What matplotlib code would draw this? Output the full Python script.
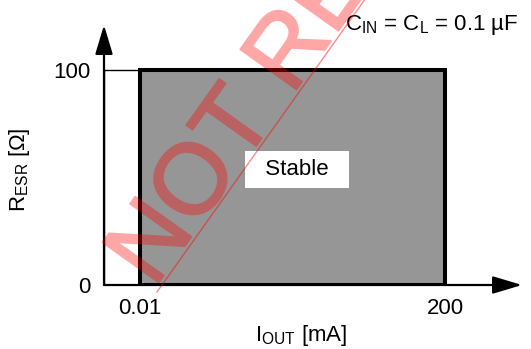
import matplotlib
matplotlib.use("Agg")
import matplotlib.pyplot as plt
import matplotlib.patheffects as pe
from matplotlib.patches import Rectangle
from matplotlib.lines import Line2D

plt.rcParams['font.family'] = ['Liberation Sans', 'DejaVu Sans']
plt.rcParams['mathtext.default'] = 'regular'

# data
i_out_ticks = [0.01, 200]
i_out_labels = ["0.01", "200"]
r_esr_ticks = [0, 100]
r_esr_labels = ["0", "100"]
stable_i = [0.01, 200]     # mA
stable_r = [0, 100]        # ohm
cond_label = "C$_{IN}$ = C$_{L}$ = 0.1 µF"
watermark = "NOT RECOMMENDED"

x_min, x_max = 0.0031, 2440
y_min, y_max = 0, 120.9


def fade(img, dpi):
    # make the whole watermark layer translucent at once
    img = img.copy()
    img[:, :, 3] *= 0.35
    return img, 0, 0


fig = plt.figure(figsize=(5.31, 3.49), dpi=100)
ax = fig.add_axes([104/531, 64/349, 418/531, 260/349])
ax.set_xscale('log')
ax.set_xlim(x_min, x_max)
ax.set_ylim(y_min, y_max)
for s in ax.spines.values():
    s.set_visible(False)
ax.patch.set_alpha(0)

# thin box left of the stable region
ax.add_patch(Rectangle((x_min, stable_r[0]), stable_i[0] - x_min, stable_r[1] - stable_r[0],
                       facecolor='white', edgecolor='black', lw=1.0, zorder=1))
# stable region
ax.add_patch(Rectangle((stable_i[0], stable_r[0]), stable_i[1] - stable_i[0], stable_r[1] - stable_r[0],
                       facecolor='#969696', edgecolor='black', lw=2.9, zorder=2))

# axes with arrows
arrow = dict(arrowstyle='-|>,head_length=1.0,head_width=0.3', mutation_scale=18,
             color='black', lw=1.6, shrinkA=0, shrinkB=0)
ax.annotate('', xy=(x_max, y_min), xytext=(x_min, y_min), arrowprops=arrow, zorder=3,
            annotation_clip=False)
ax.annotate('', xy=(x_min, y_max), xytext=(x_min, y_min), arrowprops=arrow, zorder=3,
            annotation_clip=False)

ax.set_xticks(i_out_ticks, i_out_labels)
ax.set_yticks(r_esr_ticks, r_esr_labels)
ax.minorticks_off()
ax.tick_params(axis='both', length=0, labelsize=16)
ax.tick_params(axis='x', pad=9)
ax.tick_params(axis='y', pad=10)

ax.set_xlabel("I$_{OUT}$ [mA]", fontsize=16, va='center')
ax.xaxis.set_label_coords(0.471, -0.196)
ax.set_ylabel("R$_{ESR}$ [Ω]", fontsize=16, va='center')
ax.yaxis.set_label_coords(-0.203, 0.442)

ax.text(0.462, 0.446, "  Stable  ", transform=ax.transAxes, fontsize=16,
        ha='center', va='center', zorder=4,
        bbox=dict(boxstyle='square,pad=0.36', facecolor='white', edgecolor='none'))

fig.text(345/531, 1 - 25/349, cond_label, fontsize=16, ha='left', va='center')

# watermark
wm = fig.text(154/531, 1 - 289/349, watermark, fontsize=72, color='red',
              rotation=54.5, rotation_mode='anchor', ha='left', va='baseline', zorder=10,
              path_effects=[pe.Stroke(linewidth=1.5, foreground='red')])
wm.set_agg_filter(fade)
fig.add_artist(Line2D([157/531, 373/531], [1 - 292/349, 1 + 12/349], color='red',
                      alpha=0.45, lw=1.0, zorder=10))

fig.savefig("out.png", dpi=100)
